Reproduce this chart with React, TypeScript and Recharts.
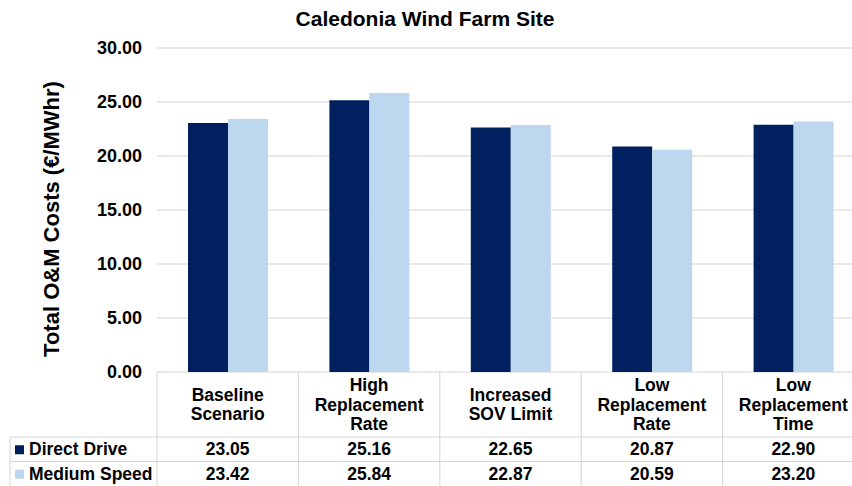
import { BarChart, Bar, XAxis, YAxis, CartesianGrid } from "recharts";

const categories = [
  "Baseline\nScenario",
  "High\nReplacement\nRate",
  "Increased\nSOV Limit",
  "Low\nReplacement\nRate",
  "Low\nReplacement\nTime",
];
const directDrive = [23.05, 25.16, 22.65, 20.87, 22.9];
const mediumSpeed = [23.42, 25.84, 22.87, 20.59, 23.2];
const yTicks = [0, 5, 10, 15, 20, 25, 30];

const data = categories.map((c, i) => ({
  name: c,
  direct: directDrive[i],
  medium: mediumSpeed[i],
}));

const FONT = "'Liberation Sans', Arial, sans-serif";
const DARK = "#002060";
const LIGHT = "#BDD7EE";
const LINE = "#d4d4d4";

const CHART_W = 864;
const CHART_H = 486;
const Y_W = 157;
const PLOT_TOP = 48;
const PLOT_BOTTOM = 372;
const ROW1 = 437;
const ROW2 = 461.5;
const HALF = (CHART_W - Y_W) / categories.length / 2;
const TABLE_FS = 17.5;

const TableTick = ({ x, payload }: any) => {
  const i = payload.index;
  const lines = String(payload.value).split("\n");
  const lh = 19.5;
  const mid = (PLOT_BOTTOM + ROW1) / 2;
  const startY = mid - ((lines.length - 1) * lh) / 2;
  const txt = { fontFamily: FONT, fontWeight: 700, fontSize: TABLE_FS, fill: "#000" };
  return (
    <g>
      {i === 0 && <line x1={x - HALF} x2={x - HALF} y1={PLOT_BOTTOM} y2={CHART_H} stroke={LINE} />}
      <line x1={x + HALF} x2={x + HALF} y1={PLOT_BOTTOM} y2={CHART_H} stroke={LINE} />
      <line x1={x - HALF} x2={x + HALF} y1={ROW1} y2={ROW1} stroke={LINE} />
      <line x1={x - HALF} x2={x + HALF} y1={ROW2} y2={ROW2} stroke={LINE} />
      {lines.map((l, k) => (
        <text key={k} x={x} y={startY + k * lh} textAnchor="middle" dominantBaseline="central" {...txt}>
          {l}
        </text>
      ))}
      <text x={x} y={(ROW1 + ROW2) / 2} textAnchor="middle" dominantBaseline="central" {...txt}>
        {directDrive[i].toFixed(2)}
      </text>
      <text x={x} y={(ROW2 + CHART_H) / 2} textAnchor="middle" dominantBaseline="central" {...txt}>
        {mediumSpeed[i].toFixed(2)}
      </text>
    </g>
  );
};

export default function App() {
  const txt = { fontFamily: FONT, fontWeight: 700, fill: "#000" };
  return (
    <div
      style={{
        position: "absolute",
        left: 0,
        top: 0,
        width: 852,
        height: 486,
        overflow: "hidden",
        background: "#fff",
      }}
    >
      <BarChart
        width={CHART_W}
        height={CHART_H}
        data={data}
        margin={{ top: PLOT_TOP, right: 0, left: 0, bottom: 0 }}
        barGap={0}
        barCategoryGap="21.7%"
      >
        <CartesianGrid vertical={false} stroke={LINE} />
        <XAxis
          dataKey="name"
          height={CHART_H - PLOT_BOTTOM}
          axisLine={false}
          tickLine={false}
          interval={0}
          tick={<TableTick />}
        />
        <YAxis
          width={Y_W}
          domain={[0, 30]}
          ticks={yTicks}
          axisLine={false}
          tickLine={false}
          tickSize={0}
          tickMargin={15}
          tickFormatter={(v: number) => v.toFixed(2)}
          tick={{ fontFamily: FONT, fontWeight: 700, fontSize: 18, fill: "#000" }}
        />
        <Bar dataKey="direct" fill={DARK} barSize={40} isAnimationActive={false} />
        <Bar dataKey="medium" fill={LIGHT} barSize={40} isAnimationActive={false} />
      </BarChart>
      <svg
        width={852}
        height={486}
        style={{ position: "absolute", left: 0, top: 0, pointerEvents: "none" }}
      >
        <text x={425} y={18} textAnchor="middle" dominantBaseline="central" fontSize={21} {...txt}>
          Caledonia Wind Farm Site
        </text>
        <text
          x={51}
          y={219}
          textAnchor="middle"
          dominantBaseline="central"
          fontSize={22}
          transform="rotate(-90 51 219)"
          {...txt}
        >
          Total O&amp;M Costs (€/MWhr)
        </text>
        <line x1={10} x2={Y_W} y1={ROW1} y2={ROW1} stroke={LINE} />
        <line x1={10} x2={Y_W} y1={ROW2} y2={ROW2} stroke={LINE} />
        <line x1={10} x2={10} y1={ROW1} y2={CHART_H} stroke={LINE} />
        <rect x={15} y={(ROW1 + ROW2) / 2 - 4} width={9} height={9} fill={DARK} />
        <rect x={15} y={(ROW2 + CHART_H) / 2 - 4} width={9} height={9} fill={LIGHT} />
        <text x={29} y={(ROW1 + ROW2) / 2} dominantBaseline="central" fontSize={TABLE_FS} {...txt}>
          Direct Drive
        </text>
        <text x={29} y={(ROW2 + CHART_H) / 2} dominantBaseline="central" fontSize={TABLE_FS} {...txt}>
          Medium Speed
        </text>
      </svg>
    </div>
  );
}
